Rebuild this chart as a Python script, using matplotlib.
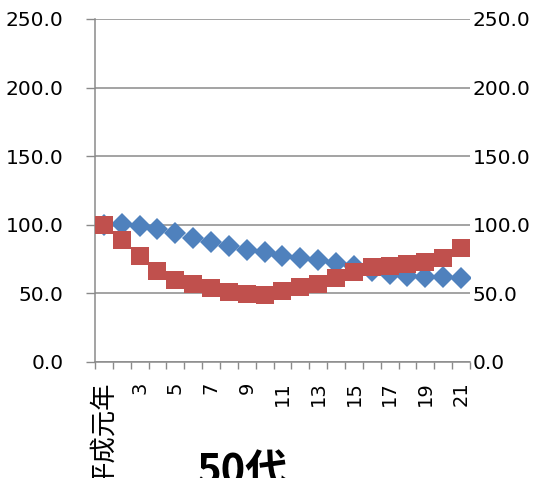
import numpy as np
import matplotlib
matplotlib.use("Agg")
import matplotlib.pyplot as plt
from matplotlib.ticker import FixedLocator, FixedFormatter

plt.rcParams['font.family'] = ['DejaVu Sans', 'Noto Sans CJK JP']

# 平成元年 = 100 の指数 (年次 1..21)
years = ['平成元年', '2', '3', '4', '5', '6', '7', '8', '9', '10', '11',
         '12', '13', '14', '15', '16', '17', '18', '19', '20', '21']
series_blue = [100.0, 100.5, 99.0, 96.8, 93.9, 90.3, 87.1, 84.2, 81.8, 79.8, 77.0,
               76.0, 74.5, 72.0, 69.6, 66.5, 64.0, 63.0, 62.0, 61.8, 61.2]
series_red = [100.0, 89.0, 77.0, 66.0, 60.0, 57.0, 54.0, 51.3, 49.3, 48.8, 51.5,
              54.6, 57.1, 61.5, 65.5, 69.2, 70.2, 71.7, 73.1, 75.5, 82.8]
y_ticks = [0, 50, 100, 150, 200, 250]

grid_col = '#8a8a8a'

fig = plt.figure(figsize=(5.33, 4.78), dpi=100)
ax = fig.add_axes([0.1782, 0.2427, 0.7036, 0.7176])

x = np.arange(1, len(years) + 1)
ax.plot(x, series_blue, linestyle='none', marker='D', markersize=11.5,
        color='#4f81bd', markeredgewidth=0, zorder=3)
ax.plot(x, series_red, linestyle='none', marker='s', markersize=13.5,
        color='#c0504d', markeredgewidth=0, zorder=4)

ax.set_xlim(0.5, len(years) + 0.5)
ax.set_ylim(0, 250)

# 目盛線は区間の境目、ラベルは区間の中央に1つおき
ax.xaxis.set_major_locator(FixedLocator(np.arange(0.5, len(years) + 1)))
ax.xaxis.set_major_formatter(FixedFormatter([''] * (len(years) + 1)))
ax.xaxis.set_minor_locator(FixedLocator(x))
ax.xaxis.set_minor_formatter(FixedFormatter(
    [lab if i % 2 == 0 else '' for i, lab in enumerate(years)]))
ax.tick_params(axis='x', which='major', direction='out', length=5, width=1, color=grid_col)
ax.tick_params(axis='x', which='minor', length=0, pad=14, labelsize=14, labelrotation=90)
for lab in ax.xaxis.get_minorticklabels():
    lab.set_va('top')
    lab.set_ha('center')
    if lab.get_text() == years[0]:
        lab.set_fontsize(19)

ax.set_yticks(y_ticks)
ax.set_yticklabels([f'{v:.1f}' for v in y_ticks])
ax.tick_params(axis='y', direction='out', length=6.5, width=1, color=grid_col,
               pad=16, labelsize=14.5)
ax.grid(axis='y', color=grid_col, linewidth=1.1)
ax.set_axisbelow(True)

for side in ['top', 'right']:
    ax.spines[side].set_visible(False)
for side in ['left', 'bottom']:
    ax.spines[side].set_color(grid_col)
    ax.spines[side].set_linewidth(1.1)

ax2 = ax.twinx()
ax2.set_ylim(ax.get_ylim())
ax2.set_yticks(y_ticks)
ax2.set_yticklabels([f'{v:.1f}' for v in y_ticks])
ax2.tick_params(axis='y', length=0, pad=2, labelsize=14.5)
for side in ax2.spines:
    ax2.spines[side].set_visible(False)

fig.text(0.454, -0.013, '50代', fontsize=30, fontweight='bold',
         family=['Noto Sans CJK JP'], ha='center', va='baseline')

fig.savefig('out.png', dpi=100)
